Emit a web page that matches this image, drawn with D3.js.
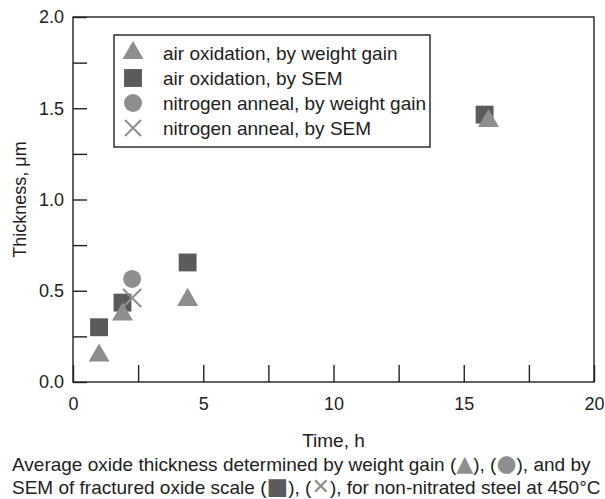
<html>
<head></head>
<body style="margin:0;background:#fff">
<svg id="svg" width="605" height="499"></svg>
<script src="https://d3js.org/d3.v7.min.js"></script>
<script>

// air oxidation, by weight gain (triangles)
var airWgtTime = [1.0, 1.9, 4.4, 15.95];
var airWgtThk  = [0.145, 0.37, 0.45, 1.43];
// air oxidation, by SEM (squares)
var airSemTime = [1.0, 1.9, 4.4, 15.8];
var airSemThk  = [0.30, 0.435, 0.655, 1.465];
// nitrogen anneal, by weight gain (circle)
var n2WgtTime = [2.27];
var n2WgtThk  = [0.565];
// nitrogen anneal, by SEM (cross)
var n2SemTime = [2.27];
var n2SemThk  = [0.46];

var xTicks = [0, 2.5, 5, 7.5, 10, 12.5, 15, 17.5, 20];
var yTicks = [0, 0.25, 0.5, 0.75, 1.0, 1.25, 1.5, 1.75, 2.0];

var legendLabels = ["air oxidation, by weight gain", "air oxidation, by SEM",
                    "nitrogen anneal, by weight gain", "nitrogen anneal, by SEM"];

var light = "#8e8e8e", dark = "#5b5b5b", ink = "#222";
var font = "'Liberation Sans', Arial, sans-serif";
var glyphFont = "'DejaVu Sans', sans-serif";

var L = 73, R = 594, T = 17, B = 382;
var x = d3.scaleLinear().domain([0, 20]).range([L, R]);
var y = d3.scaleLinear().domain([0, 2]).range([B, T]);

var svg = d3.select("#svg").style("font-family", font);

// frame
svg.append("rect")
  .attr("x", L).attr("y", T).attr("width", R-L).attr("height", B-T)
  .style("fill", "none").style("stroke", ink).style("stroke-width", 1.4);

svg.append("g")
  .attr("transform", "translate(0,"+B+")")
  .call(d3.axisBottom(x).tickValues(xTicks).tickSize(-17).tickPadding(15)
    .tickFormat(d => d % 5 == 0 ? d : ""))
  .call(g => {
    g.select(".domain").remove();
    g.selectAll("line").style("stroke", ink).style("stroke-width", 1.4);
    g.selectAll("text").style("font-size", "18px").style("font-family", font).style("fill", ink);
  });

svg.append("g")
  .attr("transform", "translate("+L+",0)")
  .call(d3.axisLeft(y).tickValues(yTicks).tickSize(-14).tickPadding(9)
    .tickFormat(d => (d*2) % 1 == 0 ? d.toFixed(1) : ""))
  .call(g => {
    g.select(".domain").remove();
    g.selectAll("line").style("stroke", ink).style("stroke-width", 1.4);
    g.selectAll("text").style("font-size", "18px").style("font-family", font).style("fill", ink);
  });

// axis titles
svg.append("text")
  .attr("x", (L+R)/2).attr("y", 447)
  .attr("text-anchor", "middle")
  .style("font-size", "19px").style("fill", ink)
  .text("Time, h");

svg.append("text")
  .attr("transform", "translate(26,"+((T+B)/2)+") rotate(-90)")
  .attr("text-anchor", "middle")
  .style("font-size", "18px").style("fill", ink)
  .text("Thickness, \u03bcm");

// markers
var tri = d3.symbol().type(d3.symbolTriangle).size(190);
var sq  = d3.symbol().type(d3.symbolSquare).size(320);
var circ = d3.symbol().type(d3.symbolCircle).size(255);

function cross(g, cx, cy, r) {
  g.append("path")
    .attr("d", "M"+(cx-r)+","+(cy-r)+"L"+(cx+r)+","+(cy+r)+"M"+(cx-r)+","+(cy+r)+"L"+(cx+r)+","+(cy-r))
    .style("stroke", light).style("stroke-width", 2).style("fill", "none");
}

var pts = svg.append("g");

pts.selectAll("path.sq").data(d3.range(airSemTime.length))
  .join("path").attr("class", "sq")
  .attr("d", sq)
  .attr("transform", i => "translate("+x(airSemTime[i])+","+y(airSemThk[i])+")")
  .style("fill", dark);

pts.selectAll("path.circ").data(d3.range(n2WgtTime.length))
  .join("path").attr("class", "circ")
  .attr("d", circ)
  .attr("transform", i => "translate("+x(n2WgtTime[i])+","+y(n2WgtThk[i])+")")
  .style("fill", light);

n2SemTime.forEach((t, i) => cross(pts, x(t), y(n2SemThk[i]), 9));

pts.selectAll("path.tri").data(d3.range(airWgtTime.length))
  .join("path").attr("class", "tri")
  .attr("d", tri)
  .attr("transform", i => "translate("+x(airWgtTime[i])+","+y(airWgtThk[i])+")")
  .style("fill", light);

// legend
var lg = svg.append("g");
lg.append("rect")
  .attr("x", 114).attr("y", 35).attr("width", 316).attr("height", 112)
  .style("fill", "#fff").style("stroke", ink).style("stroke-width", 1.4);

var rowY = [53, 78, 103, 128];
lg.append("path").attr("d", tri).attr("transform", "translate(133,"+rowY[0]+")").style("fill", light);
lg.append("path").attr("d", sq).attr("transform", "translate(133,"+rowY[1]+")").style("fill", dark);
lg.append("path").attr("d", circ).attr("transform", "translate(133,"+rowY[2]+")").style("fill", light);
cross(lg, 133, rowY[3], 8);

lg.selectAll("text").data(legendLabels)
  .join("text")
  .attr("x", 163).attr("y", (d, i) => rowY[i] + 7)
  .style("font-size", "19px").style("fill", ink)
  .text(d => d);

// caption
var cap = svg.append("g").style("font-size", "19px").style("fill", ink);
var c1 = cap.append("text").attr("x", 12).attr("y", 471);
c1.append("tspan").text("Average oxide thickness determined by weight gain (");
c1.append("tspan").style("fill", light).style("font-family", glyphFont).style("font-size", "22px").text("\u25b2");
c1.append("tspan").text("), (");
c1.append("tspan").style("fill", light).style("font-family", glyphFont).style("font-size", "23px").text("\u25cf");
c1.append("tspan").text("), and by");
var c2 = cap.append("text").attr("x", 12).attr("y", 494);
c2.append("tspan").text("SEM of fractured oxide scale (");
c2.append("tspan").style("fill", dark).style("font-family", glyphFont).style("font-size", "23px").text("\u25a0");
c2.append("tspan").text("), (");
c2.append("tspan").style("fill", light).style("font-family", glyphFont).style("font-size", "22px").text("\u2715");
c2.append("tspan").text("), for non-nitrated steel at 450\u00b0C");

</script>
</body>
</html>
